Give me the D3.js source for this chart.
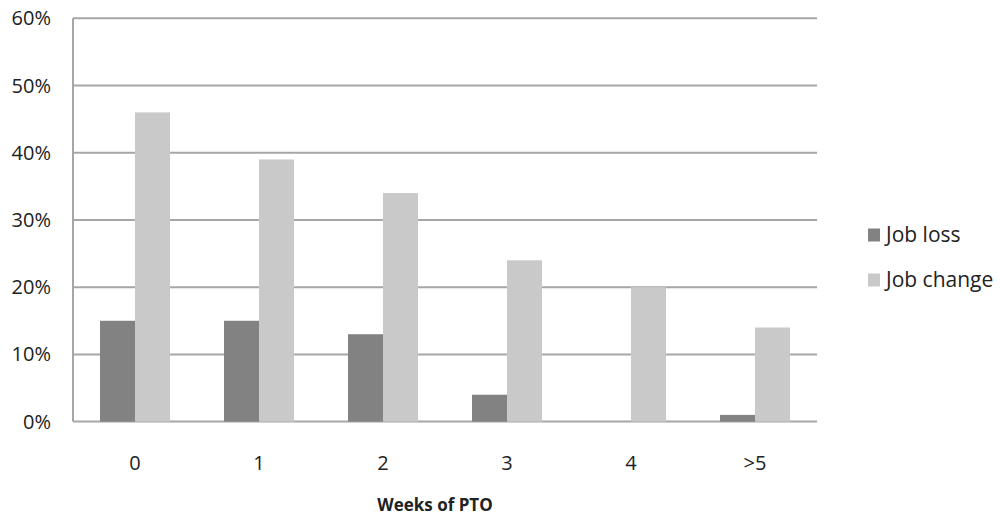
<!DOCTYPE html>
<html>
<head>
<meta charset="utf-8">
<script src="https://cdn.jsdelivr.net/npm/d3@7"></script>
<style>
  body { margin: 0; background: #fff; }
  text { font-family: 'Open Sans', sans-serif; fill: #222; }
</style>
</head>
<body>
<div id="chart"></div>
<script>
const categories = ['0', '1', '2', '3', '4', '>5'];
const seriesNames = ['Job loss', 'Job change'];
const jobLoss = [15, 15, 13, 4, 0, 1];
const jobChange = [46, 39, 34, 24, 20, 14];
const yTicks = [0, 10, 20, 30, 40, 50, 60];

const w = 1000;
const h = 518;
const plotLeft = 73;
const plotRight = 817;
const plotTop = 18.3;
const plotBottom = 421.6;
const colors = ['#828282', '#c9c9c9'];

const svg = d3.select('#chart').append('svg').attr('width', w).attr('height', h);

const scaleX = d3.scaleBand().domain(categories).range([plotLeft, plotRight]);
const scaleInner = d3.scaleBand().domain(seriesNames).range([-35, 35]);
const scaleY = d3.scaleLinear().domain([0, 60]).range([plotBottom, plotTop]);

// gridlines
svg.append('g')
  .selectAll('line')
  .data(yTicks)
  .enter()
  .append('line')
  .attr('x1', plotLeft)
  .attr('x2', plotRight)
  .attr('y1', (d) => scaleY(d))
  .attr('y2', (d) => scaleY(d))
  .attr('stroke', '#a6a6a6')
  .attr('stroke-width', 2);

svg.append('line')
  .attr('x1', plotLeft).attr('x2', plotLeft)
  .attr('y1', scaleY(60)).attr('y2', scaleY(0))
  .attr('stroke', '#a6a6a6')
  .attr('stroke-width', 2);

// y tick labels
svg.append('g')
  .selectAll('text')
  .data(yTicks)
  .enter()
  .append('text')
  .attr('x', 51)
  .attr('y', (d) => scaleY(d))
  .attr('dy', '0.35em')
  .attr('text-anchor', 'end')
  .attr('font-size', 20)
  .text((d) => d + '%');

// bars
const table = categories.map((c, i) => ({ cat: c, vals: [jobLoss[i], jobChange[i]] }));
const groups = svg.append('g')
  .selectAll('g')
  .data(table)
  .enter()
  .append('g')
  .attr('transform', (d) => `translate(${scaleX(d.cat) + scaleX.bandwidth() / 2},0)`);

groups.selectAll('rect')
  .data((d) => d.vals.map((v, j) => ({ name: seriesNames[j], v, j })))
  .enter()
  .append('rect')
  .attr('x', (d) => scaleInner(d.name))
  .attr('width', scaleInner.bandwidth())
  .attr('y', (d) => scaleY(d.v))
  .attr('height', (d) => scaleY(0) - scaleY(d.v))
  .attr('fill', (d) => colors[d.j]);

// x labels
svg.append('g')
  .selectAll('text')
  .data(categories)
  .enter()
  .append('text')
  .attr('x', (d) => scaleX(d) + scaleX.bandwidth() / 2)
  .attr('y', 463)
  .attr('dy', '0.35em')
  .attr('text-anchor', 'middle')
  .attr('font-size', 20)
  .text((d) => d);

svg.append('text')
  .attr('x', 435)
  .attr('y', 505)
  .attr('dy', '0.35em')
  .attr('text-anchor', 'middle')
  .attr('font-size', 17)
  .attr('font-weight', 'bold')
  .text('Weeks of PTO');

// legend
const legend = svg.append('g')
  .selectAll('g')
  .data(seriesNames)
  .enter()
  .append('g')
  .attr('transform', (d, i) => `translate(868,${235 + i * 45})`);

legend.append('rect')
  .attr('x', 0).attr('y', -6.5)
  .attr('width', 12).attr('height', 13)
  .attr('fill', (d, i) => colors[i]);

legend.append('text')
  .attr('x', 18)
  .attr('y', 0)
  .attr('dy', '0.35em')
  .attr('font-size', 21)
  .text((d) => d);
</script>
</body>
</html>
